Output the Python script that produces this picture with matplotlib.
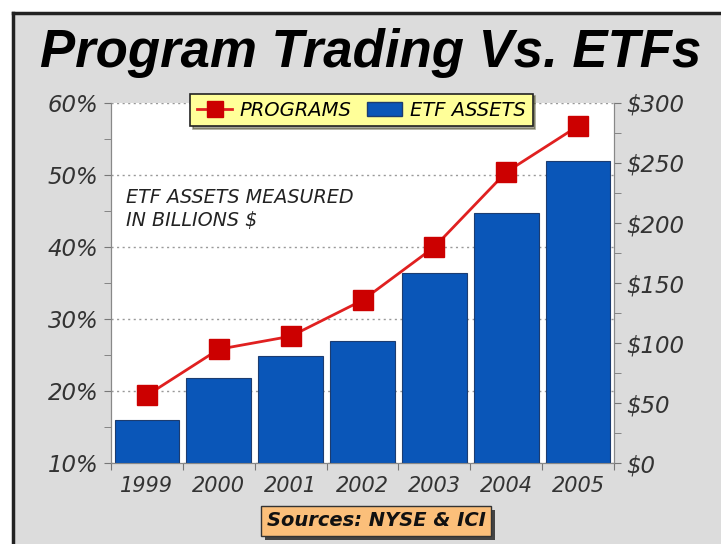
import numpy as np
import matplotlib
matplotlib.use('Agg')
import matplotlib.pyplot as plt
import matplotlib.patheffects as pe
from matplotlib.lines import Line2D
from matplotlib.patches import Patch, Rectangle
from matplotlib.ticker import MultipleLocator, FuncFormatter

# data
years = ['1999', '2000', '2001', '2002', '2003', '2004', '2005']
programs_pct = [19.4, 25.8, 27.6, 32.6, 40.0, 50.4, 56.8]      # left axis, %
etf_assets = [36, 71, 89, 102, 158, 208, 252]                  # right axis, $ billions

W, H = 721, 544
fig = plt.figure(figsize=(W / 100, H / 100), dpi=100)
fig.patch.set_facecolor('white')

# gray panel with a black frame on top and left
fig.add_artist(Rectangle((12 / W, 0), 1, 1 - 12 / H, transform=fig.transFigure,
                         facecolor='#dcdcdc', edgecolor='none', zorder=0))
fig.add_artist(Line2D([13 / W, 1], [1 - 13 / H, 1 - 13 / H], transform=fig.transFigure,
                      color='#222222', lw=2.5))
fig.add_artist(Line2D([13 / W, 13 / W], [0, 1 - 13 / H], transform=fig.transFigure,
                      color='#222222', lw=2.5))

fig.text(371 / W, 1 - 53 / H, 'Program Trading Vs. ETFs', ha='center', va='center',
         fontsize=38, fontweight='bold', fontstyle='italic', family='Liberation Sans')

x = np.arange(len(years))
ylab_size = 16.5

# bottom axes: % scale, grid
ax = fig.add_axes([111 / W, (H - 463) / H, (614 - 111) / W, 360 / H])
ax.set_facecolor('white')
ax.set_xlim(-0.5, len(years) - 0.5)
ax.set_ylim(10, 60)
ax.yaxis.set_major_locator(MultipleLocator(10))
ax.yaxis.set_minor_locator(MultipleLocator(5))
ax.yaxis.set_major_formatter(FuncFormatter(lambda v, p: f'{v:.0f}%'))
ax.grid(axis='y', which='major', linestyle=(0, (1.5, 2.5)), color='#999999', lw=1)
ax.set_xticks(np.arange(-0.5, len(years), 1.0))
ax.set_xticklabels([])
ax.set_xticks(x, minor=True)
ax.set_xticklabels(years, minor=True, fontsize=15, fontstyle='italic', color='#333333')
ax.tick_params(axis='x', which='minor', length=0, pad=9)
ax.tick_params(axis='x', which='major', length=5, color='#777777')
ax.tick_params(axis='y', which='both', length=5, color='#777777', pad=4)
for lab in ax.get_yticklabels():
    lab.set_fontsize(ylab_size)
    lab.set_fontstyle('italic')
    lab.set_color('#333333')
for s in ['left', 'bottom', 'right']:
    ax.spines[s].set_color('#888888')
ax.spines['top'].set_visible(False)

# bars on the right $ scale
axb = ax.twinx()
axb.bar(x, etf_assets, width=0.9, color='#0a56b8', edgecolor='#1c3c70', lw=0.8, zorder=2)
axb.set_ylim(0, 300)
axb.yaxis.set_major_locator(MultipleLocator(50))
axb.yaxis.set_minor_locator(MultipleLocator(25))
axb.yaxis.set_major_formatter(FuncFormatter(lambda v, p: f'${v:.0f}'))
axb.tick_params(axis='y', which='both', length=5, color='#777777', pad=4)
for lab in axb.get_yticklabels():
    lab.set_fontsize(ylab_size)
    lab.set_fontstyle('italic')
    lab.set_color('#333333')
for s in ['left', 'bottom', 'right']:
    axb.spines[s].set_color('#888888')
axb.spines['top'].set_visible(False)

# line on top, % scale again
axl = ax.twinx()
axl.set_ylim(10, 60)
axl.axis('off')
axl.plot(x, programs_pct, color='#e02020', lw=2, marker='s', markersize=14,
         markerfacecolor='#cc0000', markeredgecolor='#cc0000', zorder=3)

handles = [Line2D([0], [0], color='#e02020', lw=2, marker='s', markersize=11,
                  markerfacecolor='#cc0000', markeredgecolor='#cc0000'),
           Patch(facecolor='#0a56b8', edgecolor='#1c3c70')]
leg = axl.legend(handles, ['PROGRAMS', 'ETF ASSETS'], ncol=2, loc='center',
                 bbox_to_anchor=(361.5 / W, 1 - 110 / H), bbox_transform=fig.transFigure,
                 frameon=True, fancybox=False, shadow=True, facecolor='#ffff99',
                 edgecolor='#222222', framealpha=1, handlelength=1.8, handletextpad=0.4,
                 columnspacing=0.8, borderpad=0.35,
                 prop=dict(size=14, style='italic'))
leg.get_frame().set_linewidth(1.2)

fig.text(126 / W, 1 - 209 / H, 'ETF ASSETS MEASURED\nIN BILLIONS $', ha='left', va='center',
         fontsize=13.8, fontstyle='italic', color='#222222', linespacing=1.25)

# sources box with a drop shadow
src = fig.text(376 / W, 1 - 521 / H, 'Sources: NYSE & ICI', ha='center', va='center',
               fontsize=14, fontweight='bold', fontstyle='italic', color='#111111',
               bbox=dict(boxstyle='square,pad=0.28', facecolor='#fbbf7a',
                         edgecolor='#333333', lw=1))
src.get_bbox_patch().set_path_effects(
    [pe.SimplePatchShadow(offset=(3, -3), shadow_rgbFace='#444444', alpha=1), pe.Normal()])

fig.savefig('out.png', dpi=100)
